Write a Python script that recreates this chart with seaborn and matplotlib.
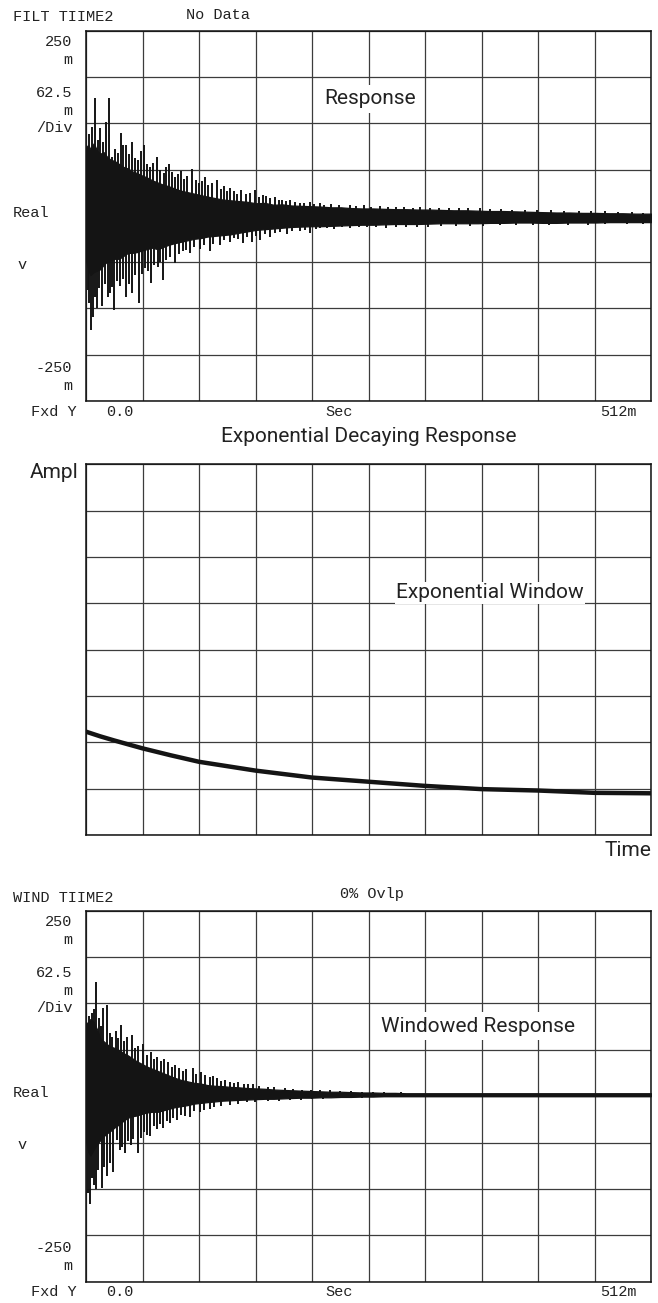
import numpy as np
import matplotlib
matplotlib.use("Agg")
import matplotlib.pyplot as plt
import seaborn as sns

# ---------------- data read off the analyzer screens ----------------
# envelope sample times (ms) shared by both noisy traces
env_t = [0, 2, 4, 7, 10, 13, 16, 19, 22, 26, 30, 34, 38, 42, 46, 50, 55, 60, 65, 70,
         75, 80, 86, 92, 98, 104, 110, 117, 124, 131, 138, 146, 154, 162, 170, 178,
         186, 195, 204, 213, 222, 231, 240, 250, 260, 270, 280, 290, 300, 311, 322,
         333, 344, 355, 366, 378, 390, 402, 414, 426, 438, 450, 462, 474, 486, 498, 512]

# response (mV): dense band upper / lower edge
resp_upper = [92, 96, 90, 98, 88, 84, 86, 80, 76, 74, 70, 66, 64, 60, 58, 55, 52, 48, 45, 42,
              40, 37, 34, 32, 30, 28, 26, 24, 22, 21, 20, 19, 17, 17.5, 15, 15.5,
              14, 13.5, 13, 12.5, 11.5, 11.5, 10.5, 10, 10, 9.5, 9, 9, 8.5, 8.5, 8,
              7.5, 7.5, 7, 6.5, 6.5, 6, 5.5, 5, 4.5, 4.5, 4, 4, 3.5, 3.5, 3, 3]
resp_lower = [-60, -72, -80, -76, -74, -72, -66, -62, -60, -58, -58, -54, -50, -50, -49, -47, -45, -43, -45, -42,
              -39, -37, -35, -33, -31, -30, -28, -27, -26, -25, -23, -21, -19, -18, -17, -16,
              -15, -14.5, -14, -14, -13.5, -13, -12.5, -12, -12, -11.5, -11, -11, -11, -10.5, -10,
              -10, -10, -10, -9.5, -9.5, -9, -9, -9.5, -9.5, -9, -9, -9, -8.5, -8.5, -8.5, -8.5]

# response spikes (ms, mV)
resp_up_t = [2.5, 5.5, 8.2, 10.9, 13, 15.5, 18.1, 20.6, 23.6, 26.5, 29, 31.7, 33.8, 36.2, 39,
             41.4, 44.4, 47, 49.5, 52.5, 55, 58, 61, 64.3, 67, 70.5, 72.5, 75, 77.9, 81,
             83, 86, 89, 91.5, 96, 99.5, 102, 105, 107.8, 111, 114, 118.7, 122, 125, 127.5,
             130.5, 134, 137, 140.4, 145, 148.5, 153, 157, 160, 163, 167, 171, 175, 178, 181,
             185, 189, 194, 198, 203, 207, 212, 216, 222, 229, 239, 245, 252, 258, 266,
             274, 281, 288, 296, 303, 312, 320, 329, 338, 346, 357, 366, 376, 386, 398,
             409, 421, 433, 447, 458, 470, 482, 495, 505]
resp_up_v = [110, 120, 159, 103, 118, 100, 127, 159, 80, 90, 85, 112, 95, 96, 84,
             100, 78, 75, 88, 96, 70, 66, 72, 80, 62, 58, 66, 70, 59, 52,
             56, 61, 50, 54, 63, 48, 44, 47, 53, 42, 45, 49, 36, 40, 34,
             38, 33, 30, 35, 29, 31, 35, 25, 28, 27, 24, 26, 21, 22, 20,
             22, 19, 18, 17, 19, 16, 17, 15, 16, 14, 15, 13, 14, 12.5, 13.5,
             12, 12, 11.5, 11, 12.6, 10.5, 11, 10, 10.5, 10, 11, 9, 9, 8.5, 8.5,
             7.5, 8, 6.5, 7, 6, 6, 5, 5, 4.5]
resp_dn_t = [1.5, 3, 4.3, 6.3, 8, 9.7, 11.5, 14.5, 17, 19.5, 21.7, 23.5, 25.1, 28, 30.5,
             33.5, 36.2, 39, 41.4, 44.5, 47.7, 50.5, 53.5, 56, 58.9, 62, 65.2, 67.5, 69.8, 72.5,
             76, 80.6, 84.5, 88, 91, 94.2, 98, 103, 107, 112.3, 115.5, 121, 125, 130.5, 134,
             137.5, 142.2, 146, 150.4, 154, 157.6, 162, 166.7, 171.2, 175.5, 182, 187, 194, 198.5, 203,
             208, 212, 218, 225, 232, 239, 247, 255, 263, 272, 281, 290, 300, 310, 322,
             335, 348, 360, 375, 390, 405, 420, 437, 455, 470, 490, 505]
resp_dn_v = [-100, -118, -154, -136, -110, -124, -98, -122, -92, -110, -104, -96, -127, -88, -95,
             -85, -109, -92, -104, -80, -117, -78, -70, -74, -91, -66, -69, -62, -86, -60,
             -56, -64, -52, -48, -46, -50, -42, -45, -40, -48, -38, -40, -33, -35, -30,
             -31, -37, -28, -35, -27, -32, -25, -28, -23, -22, -24, -21, -21, -19, -23,
             -18, -16, -16.5, -18, -15.5, -16, -15, -15, -15.5, -16, -15, -15, -14.5, -14.5, -14,
             -14, -13.5, -13.5, -13, -13, -12.5, -12.5, -12, -12, -11.5, -11.5, -11]

# exponential window (arbitrary amplitude, divisions)
win_t = [0, 12.8, 25.6, 51.2, 76.8, 102.4, 153.6, 204.8, 256, 307.2, 358.4, 409.6, 460.8, 512]
win_amp = [2.23, 2.13, 2.04, 1.87, 1.72, 1.58, 1.39, 1.24, 1.15, 1.06, 0.99, 0.96, 0.91, 0.90]

# windowed response (mV)
wind_upper = [98, 100, 104, 100, 90, 78, 74, 70, 67, 65, 62, 58, 55, 51, 47, 44, 40, 37, 34, 31,
              28, 25, 22, 20, 18, 17, 15, 14, 13.5, 12.5, 12, 11, 10.5, 10, 9, 8.5,
              8, 7.5, 7, 6.5, 6, 6, 5.5, 5, 5, 4.5, 4.5, 4, 4, 4, 4,
              4, 4, 4, 4, 4, 4, 4, 4, 4, 4, 4, 4, 4, 4, 4, 4]
wind_lower = [-60, -75, -80, -72, -65, -59, -54, -50, -47, -42, -38, -33, -29, -27, -26, -24, -22, -21, -21, -19,
              -17, -15, -13.5, -12, -10, -9, -8, -7, -6, -5.5, -5, -4.5, -4, -3.5, -3.5, -3,
              -2.5, -2, -2, -1.5, -1.5, -1, -1, -0.5, -0.5, 0, 0, 0, 0, 0, 0,
              0, 0, 0, 0, 0, 0, 0, 0, 0, 0, 0, 0, 0, 0, 0, 0]
wind_up_t = [2.5, 5.4, 7, 9.1, 11.5, 13.5, 15.4, 18.8, 21.5, 24, 27, 29, 31.4, 34, 37,
             41.4, 44, 47, 51.6, 55, 58.5, 61.5, 64.3, 68, 71, 74.3, 78, 81, 84.3, 88,
             91, 96.9, 100, 104, 107.8, 112, 115, 118.7, 122, 126, 130.5, 134, 137.7, 143, 147,
             151.3, 157, 165, 170, 180, 188, 196, 204, 212, 221, 230, 240, 250, 260, 270, 285]
wind_up_v = [108, 112, 118, 154, 105, 95, 119, 123, 85, 80, 88, 78, 96, 74, 80,
             82, 65, 68, 71, 55, 60, 50, 53, 47, 50, 46, 40, 42, 38, 34,
             36, 38, 30, 32, 28, 26, 27, 24, 21, 22, 19, 18, 19, 16, 17,
             17, 14, 13, 12, 11, 10, 9, 9, 8, 8, 7, 7, 6, 6, 5, 5.5]
wind_dn_t = [1.8, 3.6, 5.5, 7.2, 9.5, 11, 14.2, 16.5, 19, 21.5, 24.5, 27.8, 30.5, 33, 35.3,
             38, 40.5, 43, 46.8, 49.5, 52.5, 55, 58, 61.5, 64.5, 67.5, 69.8, 73, 76.5, 79,
             82.4, 86, 89.5, 94.2, 98, 103, 106.5, 112.3, 116, 122, 130.5, 138, 145.9, 153, 165,
             175, 185, 195, 205, 215, 230, 250]
wind_dn_v = [-131, -145, -110, -120, -125, -100, -124, -96, -108, -90, -102, -59, -72, -68, -77,
             -60, -66, -58, -77, -56, -48, -52, -53, -40, -44, -38, -43, -34, -36, -30,
             -32, -25, -27, -28, -20, -21, -18, -17, -14, -13, -12, -10, -8, -8, -6,
             -6, -5, -4.5, -4, -3.5, -2.5, -2]

# ---------------- figure ----------------
sns.set_theme(style="white")
plt.rcParams['font.family'] = ['DejaVu Sans']
MONO = ['Liberation Mono', 'DejaVu Sans Mono']
SANS = ['Roboto', 'DejaVu Sans']

W, H = 658, 1303
fig = plt.figure(figsize=(W / 100, H / 100), dpi=100)
fig.patch.set_facecolor('white')

INK = '#141414'
GRID = '#3c3c3c'


def panel(top, bottom):
    ax = fig.add_axes([86 / W, 1 - bottom / H, 565 / W, (bottom - top) / H])
    ax.set_facecolor('white')
    for s in ax.spines.values():
        s.set_color('#111111')
        s.set_linewidth(1.1)
    ax.set_axisbelow(True)
    ax.tick_params(length=0, labelbottom=False, labelleft=False)
    return ax


def text(x, y, s, ha='left', size=11, family=MONO, **kw):
    fig.text(x / W, 1 - y / H, s, ha=ha, va='center', fontsize=size,
             family=family, color='#222222', **kw)


def draw_trace(ax, upper, lower, up_t, up_v, dn_t, dn_v):
    ax.fill_between(env_t, lower, upper, color=INK, lw=0.9, edgecolor=INK, zorder=3)
    ax.vlines(up_t, 0, up_v, color=INK, lw=1.4, zorder=3)
    ax.vlines(dn_t, 0, dn_v, color=INK, lw=1.4, zorder=3)
    ax.set_xlim(0, 512)
    ax.set_ylim(-250, 250)
    ax.set_xticks(np.linspace(0, 512, 11))
    ax.set_yticks(np.linspace(-250, 250, 9))
    ax.grid(True, color=GRID, lw=0.9)


def screen_labels(top, title, title_y, status, status_x, status_y):
    text(13, title_y, title)
    text(status_x, status_y, status)
    for s, dy in [('250', 11.3), ('m', 29.3), ('62.5', 62.3), ('m', 80.3),
                  ('/Div', 97.3), ('-250', 337.3), ('m', 355.3)]:
        text(72.5, top + dy, s, ha='right')
    text(13, top + 182.3, 'Real')
    text(22, top + 234.3, 'v', ha='center')
    text(31, top + 381.3, 'Fxd Y')
    text(106, top + 381.3, '0.0')
    text(339, top + 381.3, 'Sec', ha='center')
    text(637, top + 381.3, '512m', ha='right')


box = dict(facecolor='white', edgecolor='none', pad=3.5)
small_box = dict(facecolor='white', edgecolor='none', pad=1.0)

# top: raw response
ax1 = panel(30.7, 401)
draw_trace(ax1, resp_upper, resp_lower, resp_up_t, resp_up_v, resp_dn_t, resp_dn_v)
screen_labels(30.7, 'FILT TIIME2', 17, 'No Data', 186, 15)
text(370, 99, 'Response', ha='center', size=15, family=SANS, bbox=box)

# middle: exponential window
ax2 = panel(464.3, 835)
sns.lineplot(x=win_t, y=win_amp, ax=ax2, color=INK, lw=3.2, zorder=3)
ax2.set(xlabel='', ylabel='')
ax2.set_xlim(0, 512)
ax2.set_ylim(0, 8)
ax2.set_xticks(np.linspace(0, 512, 11))
ax2.set_yticks(np.arange(0, 9))
ax2.grid(True, color=GRID, lw=0.9)
text(368.5, 436, 'Exponential Decaying Response', ha='center', size=15, family=SANS)
text(78, 473, 'Ampl', ha='right', size=15, family=SANS)
text(651, 850, 'Time', ha='right', size=15, family=SANS)
text(490, 593, 'Exponential Window', ha='center', size=15, family=SANS, bbox=small_box)

# bottom: windowed response
ax3 = panel(910.7, 1281.7)
draw_trace(ax3, wind_upper, wind_lower, wind_up_t, wind_up_v, wind_dn_t, wind_dn_v)
screen_labels(910.7, 'WIND TIIME2', 898, '0% Ovlp', 340, 894)
text(478, 1026, 'Windowed Response', ha='center', size=15, family=SANS, bbox=box)

fig.savefig('out.png', dpi=100, facecolor='white')
